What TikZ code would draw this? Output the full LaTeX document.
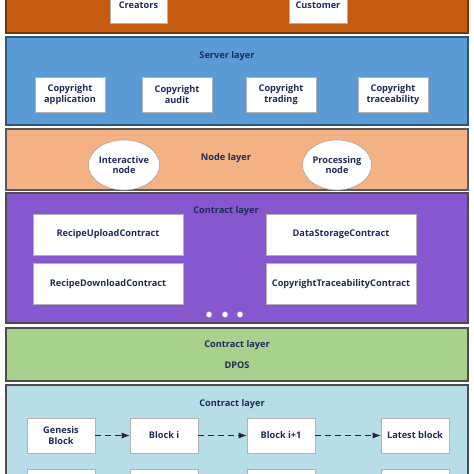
\documentclass[tikz,border=0pt]{standalone}
\usepackage{fontspec}
\setmainfont{Open Sans}
\usetikzlibrary{arrows.meta,shapes.geometric}
\definecolor{txt}{HTML}{1F2A55}
\definecolor{orangeL}{HTML}{C55A11}
\definecolor{blueL}{HTML}{5B9BD5}
\definecolor{peachL}{HTML}{F4B183}
\definecolor{purpleL}{HTML}{8657CF}
\definecolor{greenL}{HTML}{A9D18E}
\definecolor{cyanL}{HTML}{B7DEE8}
\tikzset{
  x=1pt,y=-1pt,
  layer/.style={draw=#1!60!black,line width=1.2pt},
  wbox/.style={draw=gray!60,fill=white,line width=0.6pt,text=txt,font=\bfseries\fontsize{9.2}{10.5}\selectfont,align=center,inner sep=0pt},
  ttl/.style={text=txt,font=\bfseries\fontsize{9.2}{10.5}\selectfont,inner sep=0pt},
  ell/.style={ellipse,draw=gray!70,fill=white,line width=0.6pt,text=txt,font=\bfseries\fontsize{9.2}{10.5}\selectfont,align=center,inner sep=0pt,minimum width=68pt,minimum height=50pt},
  dot/.style={circle,draw=gray!80,fill=white,line width=0.5pt,minimum size=6pt,inner sep=0pt},
  arr/.style={dashed,dash pattern=on 6pt off 4pt,line width=0.8pt,-{Latex[length=8pt,width=6pt]},draw=black!85}
}
\begin{document}
\begin{tikzpicture}
\useasboundingbox (0,0) rectangle (474,474);
\clip (0,0) rectangle (474,474);
\fill[white] (0,0) rectangle (474,474);
% layer 1
\filldraw[fill=orangeL,layer=orangeL] (6,-20) rectangle (468,33);
\node[wbox,minimum width=57pt,minimum height=40pt] (cr) at (138.5,3) {};
\node[ttl] (crt) at (138.5,5) {Creators};
\node[wbox,minimum width=58pt,minimum height=40pt] (cu) at (318,3) {};
\node[ttl] (cut) at (318,5) {Customer};
% layer 2
\filldraw[fill=blueL,draw=blueL!55!black,line width=1.2pt] (6,37) rectangle (468,125);
\node[ttl] (sl) at (227,56.5) {Server layer};
\node[wbox,minimum width=70pt,minimum height=35pt] (s1) at (70,94.5) {Copyright\\application};
\node[wbox,minimum width=70pt,minimum height=35pt] (s2) at (177,94.5) {Copyright\\audit};
\node[wbox,minimum width=70pt,minimum height=35pt] (s3) at (281,94.5) {Copyright\\trading};
\node[wbox,minimum width=70pt,minimum height=35pt] (s4) at (393,94.5) {Copyright\\traceability};
% layer 3
\filldraw[fill=peachL,draw=gray!70!black,line width=1.2pt] (6,129) rectangle (468,190);
\node[ttl] (nl) at (226,158) {Node layer};
\node[ell] (n1) at (124,165) {Interactive\\node};
\node[ell] (n2) at (337,165) {Processing\\node};
% layer 4
\filldraw[fill=purpleL,draw=gray!60!black,line width=1.2pt] (6,193) rectangle (468,323);
\node[ttl] (cl1) at (226,211) {Contract layer};
\node[wbox,minimum width=150pt,minimum height=41pt] (c1) at (108,234.5) {RecipeUploadContract};
\node[wbox,minimum width=150pt,minimum height=41pt] (c2) at (341,234.5) {DataStorageContract};
\node[wbox,minimum width=150pt,minimum height=41pt] (c3) at (108,284) {RecipeDownloadContract};
\node[wbox,minimum width=150pt,minimum height=41pt] (c4) at (341,284) {CopyrightTraceabilityContract};
\node[dot] (d1) at (209,314.5) {};
\node[dot] (d2) at (225,314.5) {};
\node[dot] (d3) at (240,314.5) {};
% layer 5
\filldraw[fill=greenL,draw=gray!60!black,line width=1.2pt] (6,328) rectangle (468,381);
\node[ttl] (cl2) at (237,345.5) {Contract layer};
\node[ttl] (dp) at (237,365.5) {DPOS};
% layer 6
\filldraw[fill=cyanL,draw=gray!60!black,line width=1.2pt] (6,385) rectangle (468,500);
\node[ttl] (cl3) at (232,404) {Contract layer};
\node[wbox,minimum width=68pt,minimum height=35pt] (b1) at (61,435.5) {Genesis\\Block};
\node[wbox,minimum width=68pt,minimum height=35pt] (b2) at (164,435.5) {Block i};
\node[wbox,minimum width=68pt,minimum height=35pt] (b3) at (281,435.5) {Block i+1};
\node[wbox,minimum width=68pt,minimum height=35pt] (b4) at (415,435.5) {Latest block};
\node[wbox,minimum width=68pt,minimum height=35pt] (r1) at (61,486.5) {};
\node[wbox,minimum width=68pt,minimum height=35pt] (r2) at (164,486.5) {};
\node[wbox,minimum width=68pt,minimum height=35pt] (r3) at (281,486.5) {};
\node[wbox,minimum width=68pt,minimum height=35pt] (r4) at (415,486.5) {};
\draw[arr] (b1) -- (b2);
\draw[arr] (b2) -- (b3);
\draw[arr] (b3) -- (b4);
\end{tikzpicture}
\end{document}
